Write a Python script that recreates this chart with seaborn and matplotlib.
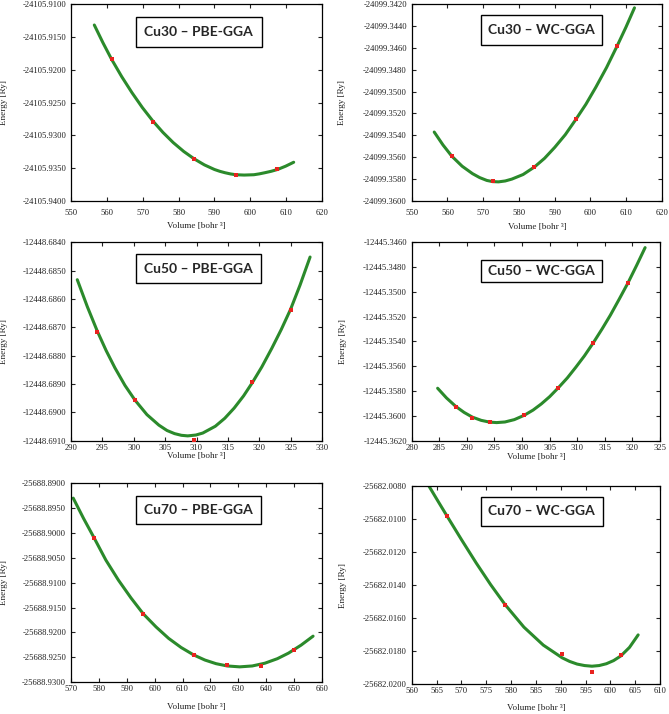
import numpy as np
import seaborn as sns
import matplotlib
matplotlib.use("Agg")
import matplotlib.pyplot as plt
from matplotlib.patches import Rectangle
from matplotlib.ticker import FormatStrFormatter

# Cu30 PBE-GGA
cu30_pbe_vol = [561.3, 572.8, 584.4, 596.0, 607.4]
cu30_pbe_en = [-24105.9184, -24105.9279, -24105.9336, -24105.9360, -24105.9352]
cu30_pbe_fit_vol = [556.5, 558.9, 561.3, 564.15, 567.0, 569.9, 572.8, 575.65, 578.5, 581.45, 584.4, 587.2,
                    590.0, 591.5, 593.0, 594.5, 596.0, 598.3, 601.0, 602.5, 604.0, 605.8, 607.6, 609.85, 612.1]
cu30_pbe_fit_en = [-24105.9132, -24105.91589, -24105.9184, -24105.92107, -24105.9235, -24105.92577, -24105.9278,
                   -24105.92956, -24105.9311, -24105.93246, -24105.9336, -24105.9345, -24105.9352, -24105.93548,
                   -24105.9357, -24105.93588, -24105.9360, -24105.93605, -24105.9360, -24105.93587, -24105.9357,
                   -24105.93548, -24105.9352, -24105.9347, -24105.9341]

# Cu30 WC-GGA
cu30_wc_vol = [561.2, 572.7, 584.3, 595.9, 607.5]
cu30_wc_en = [-24099.3559, -24099.3582, -24099.3569, -24099.35255, -24099.3458]
cu30_wc_fit_vol = [556.3, 558.75, 561.2, 564.1, 567.0, 569.0, 571.0, 572.65, 574.3, 576.15, 578.0, 581.15,
                   584.3, 587.15, 590.0, 592.95, 595.9, 598.7, 601.5, 604.5, 607.5, 609.9, 612.3]
cu30_wc_fit_en = [-24099.3537, -24099.35488, -24099.3559, -24099.35682, -24099.3575, -24099.35786, -24099.35812,
                  -24099.35823, -24099.35825, -24099.35817, -24099.3580, -24099.35758, -24099.3569, -24099.3561,
                  -24099.3551, -24099.35394, -24099.35255, -24099.35117, -24099.3496, -24099.3478, -24099.3458,
                  -24099.34413, -24099.34235]

# Cu50 PBE-GGA
cu50_pbe_vol = [294.2, 300.2, 309.6, 318.9, 325.0]
cu50_pbe_en = [-12448.68718, -12448.68955, -12448.69098, -12448.68892, -12448.68638]
cu50_pbe_fit_vol = [291.0, 292.6, 294.2, 295.6, 297.0, 298.6, 300.2, 302.1, 304.0, 305.3, 306.5, 307.6, 308.6,
                    309.9, 311.0, 313.0, 314.5, 316.0, 317.5, 318.9, 320.4, 322.0, 323.5, 325.0, 326.5, 328.1]
cu50_pbe_fit_en = [-12448.68532, -12448.68627, -12448.68714, -12448.68782, -12448.68843, -12448.68905,
                   -12448.68957, -12448.69008, -12448.69045, -12448.69064, -12448.69075, -12448.69081,
                   -12448.69083, -12448.69080, -12448.69073, -12448.69049, -12448.69021, -12448.68985,
                   -12448.68942, -12448.68895, -12448.68840, -12448.68774, -12448.68708, -12448.68636,
                   -12448.68551, -12448.68452]

# Cu50 WC-GGA
cu50_wc_vol = [288.0, 291.0, 294.1, 300.4, 306.6, 312.9, 319.2]
cu50_wc_en = [-12445.35925, -12445.36017, -12445.36049, -12445.35995, -12445.35772, -12445.35409, -12445.34928]
cu50_wc_fit_vol = [284.7, 286.3, 288.0, 289.5, 291.0, 292.6, 294.1, 295.4, 296.9, 298.6, 300.4, 302.0, 303.5,
                   305.0, 306.6, 308.2, 309.7, 311.3, 312.9, 314.5, 316.0, 317.6, 319.2, 320.8, 322.3]
cu50_wc_fit_en = [-12445.35777, -12445.35855, -12445.35924, -12445.35972, -12445.36010, -12445.36036,
                  -12445.36050, -12445.36054, -12445.36049, -12445.36030, -12445.35995, -12445.35953,
                  -12445.35903, -12445.35845, -12445.35772, -12445.35694, -12445.35610, -12445.35516,
                  -12445.35411, -12445.35299, -12445.35188, -12445.35059, -12445.34927, -12445.34783,
                  -12445.34643]

# Cu70 PBE-GGA
cu70_pbe_vol = [578.2, 595.9, 614.0, 626.1, 638.0, 649.9]
cu70_pbe_en = [-25688.90097, -25688.91629, -25688.92446, -25688.92646, -25688.92679, -25688.92345]
cu70_pbe_fit_vol = [570.8, 574.5, 578.2, 582.5, 587.0, 591.5, 595.9, 600.5, 605.0, 609.5, 614.0, 618.0,
                    622.0, 626.0, 630.5, 635.0, 639.5, 644.0, 648.0, 652.5, 656.8]
cu70_pbe_fit_en = [-25688.89304, -25688.89711, -25688.90092, -25688.90547, -25688.90949, -25688.91306,
                   -25688.91625, -25688.91889, -25688.92118, -25688.92302, -25688.92451, -25688.92553,
                   -25688.92626, -25688.92672, -25688.92690, -25688.92672, -25688.92617, -25688.92526,
                   -25688.92414, -25688.92254, -25688.92074]

# Cu70 WC-GGA
cu70_wc_vol = [567.1, 578.8, 590.3, 596.3, 602.1]
cu70_wc_en = [-25682.00982, -25682.01519, -25682.0182, -25682.01925, -25682.01822]
cu70_wc_fit_vol = [563.4, 565.25, 567.1, 570.05, 573.0, 575.9, 578.8, 582.6, 586.5, 590.3, 591.8, 593.3,
                   594.8, 596.3, 597.75, 599.2, 600.65, 602.1, 603.85, 605.6]
cu70_wc_fit_en = [-25682.00795, -25682.00888, -25682.0098, -25682.01125, -25682.01266, -25682.01397,
                  -25682.01518, -25682.01655, -25682.01764, -25682.01841, -25682.01863, -25682.01879,
                  -25682.01888, -25682.01892, -25682.01888, -25682.01877, -25682.01858, -25682.0183,
                  -25682.01778, -25682.01702]

titles = ["Cu30 \u2013 PBE-GGA", "Cu30 \u2013 WC-GGA", "Cu50 \u2013 PBE-GGA",
          "Cu50 \u2013 WC-GGA", "Cu70 \u2013 PBE-GGA", "Cu70 \u2013 WC-GGA"]

W, H = 669, 714
GREEN = "#2b8a2b"
RED = "#e8231f"

sns.set_theme(style="ticks")
plt.rcParams["font.family"] = ["Liberation Serif", "DejaVu Serif"]

panels = [
    # axes px (l, t, r, b), title box px (x0, x1, y0, y1), label positions, x tick pad
    dict(d=(cu30_pbe_vol, cu30_pbe_en), f=(cu30_pbe_fit_vol, cu30_pbe_fit_en), xl=(550, 620), nx=8,
         yl=(-24105.94, -24105.91), ny=7, ax=(71, 4, 322, 201), box=(136, 261.7, 17.3, 46.7), xly=-0.107, yly=-0.25, xp=5.5),
    dict(d=(cu30_wc_vol, cu30_wc_en), f=(cu30_wc_fit_vol, cu30_wc_fit_en), xl=(550, 620), nx=8,
         yl=(-24099.36, -24099.342), ny=10, ax=(411.7, 4, 662, 201), box=(480.7, 601.7, 15, 45), xly=-0.112, yly=-0.262, xp=5.5),
    dict(d=(cu50_pbe_vol, cu50_pbe_en), f=(cu50_pbe_fit_vol, cu50_pbe_fit_en), xl=(290, 330), nx=9,
         yl=(-12448.691, -12448.684), ny=8, ax=(71, 242.3, 322, 440.7), box=(136, 261, 254.3, 283.3), xly=-0.057, yly=-0.25, xp=2.5),
    dict(d=(cu50_wc_vol, cu50_wc_en), f=(cu50_wc_fit_vol, cu50_wc_fit_en), xl=(280, 325), nx=10,
         yl=(-12445.362, -12445.346), ny=9, ax=(411.7, 242.3, 660, 440.7), box=(480.7, 601.7, 260, 281.7), xly=-0.06, yly=-0.262, xp=2.5),
    dict(d=(cu70_pbe_vol, cu70_pbe_en), f=(cu70_pbe_fit_vol, cu70_pbe_fit_en), xl=(570, 660), nx=10,
         yl=(-25688.93, -25688.89), ny=9, ax=(71, 483, 322, 682.3), box=(136, 261, 495.7, 524), xly=-0.102, yly=-0.25, xp=2.0),
    dict(d=(cu70_wc_vol, cu70_wc_en), f=(cu70_wc_fit_vol, cu70_wc_fit_en), xl=(560, 610), nx=11,
         yl=(-25682.02, -25682.008), ny=7, ax=(411.7, 486.3, 660, 684), box=(480.7, 602.7, 496.7, 525.7), xly=-0.103, yly=-0.262, xp=2.0),
]

fig = plt.figure(figsize=(W / 100, H / 100), dpi=100)

for p, title in zip(panels, titles):
    l, t, r, b = p["ax"]
    ax = fig.add_axes([l / W, 1 - b / H, (r - l) / W, (b - t) / H])
    sns.lineplot(x=p["f"][0], y=p["f"][1], ax=ax, color=GREEN, linewidth=2.2,
                 sort=False, estimator=None, zorder=2)
    sns.scatterplot(x=p["d"][0], y=p["d"][1], ax=ax, marker="s", s=11, color=RED,
                    linewidth=0, zorder=3)
    ax.set_xlim(*p["xl"])
    ax.set_ylim(*p["yl"])
    ax.set_xticks(np.linspace(p["xl"][0], p["xl"][1], p["nx"]))
    ax.set_yticks(np.linspace(p["yl"][0], p["yl"][1], p["ny"]))
    ax.xaxis.set_major_formatter(FormatStrFormatter("%d"))
    ax.yaxis.set_major_formatter(FormatStrFormatter("%.4f"))
    ax.tick_params(direction="in", top=True, right=True, length=3, width=0.8,
                   labelsize=6.2, colors="#222222")
    ax.tick_params(axis="x", pad=p["xp"])
    ax.tick_params(axis="y", pad=3.5)
    for sp in ax.spines.values():
        sp.set_color("black")
        sp.set_linewidth(0.9)
    ax.set_xlabel("Volume [bohr \u00b3]", fontsize=6.6, color="#222222")
    ax.set_ylabel("Energy [Ry]", fontsize=6.6, color="#222222")
    ax.xaxis.set_label_coords(0.5, p["xly"])
    ax.yaxis.set_label_coords(p["yly"], 0.5)

    # title box
    x0, x1, y0, y1 = p["box"]
    fig.add_artist(Rectangle((x0 / W, 1 - y1 / H), (x1 - x0) / W, (y1 - y0) / H,
                             transform=fig.transFigure, facecolor="white",
                             edgecolor="black", linewidth=1.0, zorder=5))
    fig.text((x0 + x1) / 2 / W, 1 - (y0 + y1) / 2 / H, title, ha="center", va="center",
             fontsize=10, fontweight="bold", family=["Lato", "DejaVu Sans"], zorder=6)

fig.savefig("out.png", dpi=100)
